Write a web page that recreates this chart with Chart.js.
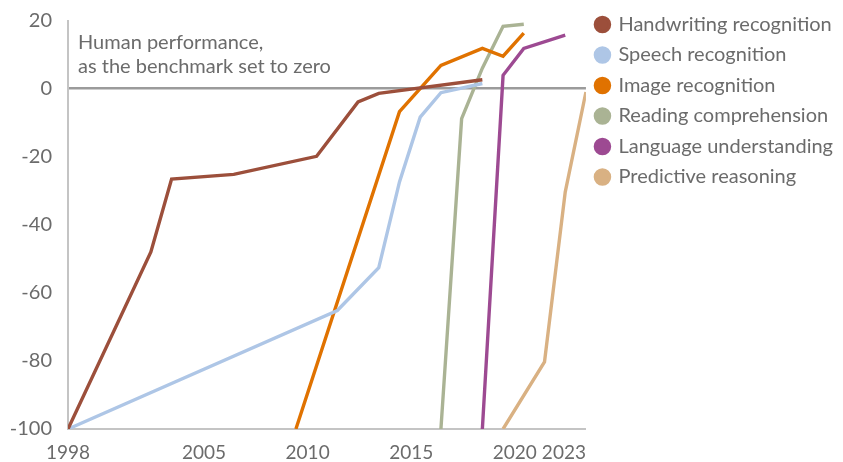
<!DOCTYPE html>
<html>
<head>
<meta charset="utf-8">
<script src="https://cdn.jsdelivr.net/npm/chart.js@4/dist/chart.umd.min.js"></script>
<style>
  html, body { margin: 0; padding: 0; background: #ffffff; }
  #wrap { width: 843px; height: 462px; position: relative; }
</style>
</head>
<body>
<div id="wrap"><canvas id="c" width="843" height="462"></canvas></div>
<script>
// ---- Data ----
const seriesNames = [
  "Handwriting recognition",
  "Speech recognition",
  "Image recognition",
  "Reading comprehension",
  "Language understanding",
  "Predictive reasoning"
];
const handwritingYears  = [1998, 2002, 2003, 2006, 2010, 2012, 2013, 2018];
const handwritingValues = [-100, -48, -26.6, -25.2, -19.9, -3.9, -1.4, 2.6];
const speechYears  = [1998, 2011, 2013, 2014, 2015, 2016, 2018];
const speechValues = [-100, -65.2, -52.6, -27.4, -8.4, -1.2, 1.5];
const imageYears  = [2009, 2014, 2016, 2018, 2019, 2020];
const imageValues = [-100, -6.8, 6.8, 11.8, 9.5, 16.3];
const readingYears  = [2016, 2017, 2018, 2019, 2020];
const readingValues = [-100, -8.8, 6.0, 18.3, 18.9];
const languageYears  = [2018, 2019, 2020, 2022];
const languageValues = [-100, 3.9, 11.8, 15.7];
const predictiveYears  = [2019, 2021, 2022, 2023];
const predictiveValues = [-100, -80.3, -30.4, -1];
const xTickYears = [1998, 2005, 2010, 2015, 2020, 2023];
const yTickValues = [-100, -80, -60, -40, -20, 0, 20];
const noteLines = ["Human performance,", "as the benchmark set to zero"];

const colors = ["#9c4f3b", "#aec6e6", "#e07200", "#aab394", "#9d4a92", "#d9b183"];
const FONT = "Lato, 'Open Sans', sans-serif";
const FS = 20;
const TEXT = "#6b6b6b";
const X_LABEL_SHIFT = -9;

function pts(xs, ys) { return xs.map((x, i) => ({ x: x, y: ys[i] })); }
const allSeries = [
  [handwritingYears, handwritingValues],
  [speechYears, speechValues],
  [imageYears, imageValues],
  [readingYears, readingValues],
  [languageYears, languageValues],
  [predictiveYears, predictiveValues]
];

const datasets = allSeries.map((s, i) => ({
  label: seriesNames[i],
  data: pts(s[0], s[1]),
  borderColor: colors[i],
  backgroundColor: colors[i],
  borderWidth: 3.4,
  pointRadius: 0,
  pointHoverRadius: 0,
  tension: 0,
  fill: false
}));

const notePlugin = {
  id: 'note',
  afterDraw(chart) {
    const ctx = chart.ctx, a = chart.chartArea;
    ctx.save();
    ctx.font = FS + "px " + FONT;
    ctx.fillStyle = TEXT;
    ctx.textAlign = "left";
    ctx.textBaseline = "middle";
    noteLines.forEach((t, i) => ctx.fillText(t, a.left + 10, a.top + 22 + i * 24));
    ctx.restore();
  }
};

// first x label centred on its tick, last x label right-aligned to the axis end
const edgeLabelPlugin = {
  id: 'edgeLabels',
  beforeDraw(chart) {
    const sx = chart.scales.x;
    const items = sx.getLabelItems(chart.chartArea);
    if (!items || !items.length) return;
    const first = items[0], last = items[items.length - 1];
    first.options.translation[0] = sx.getPixelForValue(xTickYears[0]);
    last.options.textAlign = 'right';
    last.options.translation[0] = sx.right;
  }
};

function build() {
  new Chart(document.getElementById('c'), {
    type: 'line',
    data: { datasets },
    plugins: [notePlugin, edgeLabelPlugin],
    options: {
      responsive: false,
      animation: false,
      events: [],
      layout: { padding: { top: 4, right: 0, bottom: 0, left: 0 } },
      plugins: {
        tooltip: { enabled: false },
        legend: {
          position: 'right',
          align: 'start',
          maxWidth: 258,
          labels: {
            usePointStyle: true,
            pointStyle: 'circle',
            boxWidth: 12,
            boxHeight: 10,
            padding: 10.5,
            color: TEXT,
            font: { family: FONT, size: FS }
          }
        }
      },
      scales: {
        x: {
          type: 'linear',
          min: 1998,
          max: 2023,
          afterBuildTicks: s => { s.ticks = xTickYears.map(v => ({ value: v })); },
          afterFit: s => { s.height = 33; },
          grid: { display: false, drawTicks: false },
          border: { display: true, color: "#c4c4c4", width: 2 },
          ticks: {
            autoSkip: false, maxRotation: 0, padding: 12, labelOffset: X_LABEL_SHIFT,
            color: TEXT, font: { family: FONT, size: 19 },
            callback: v => String(v)
          }
        },
        y: {
          min: -100,
          max: 20,
          afterBuildTicks: s => { s.ticks = yTickValues.map(v => ({ value: v })); },
          afterFit: s => { s.width = 68; s.paddingTop = 20.5; },
          grid: {
            drawTicks: false,
            color: c => (c.tick && c.tick.value === 0) ? "#9b9b9b" : "rgba(0,0,0,0)",
            lineWidth: c => (c.tick && c.tick.value === 0) ? 2.5 : 0
          },
          border: { display: true, color: "#c4c4c4", width: 2 },
          ticks: {
            padding: 16, color: TEXT, font: { family: FONT, size: FS },
            callback: v => String(v)
          }
        }
      }
    }
  });
}
if (document.fonts && document.fonts.load) {
  document.fonts.load(FS + "px Lato").then(build, build);
} else { build(); }
</script>
</body>
</html>
